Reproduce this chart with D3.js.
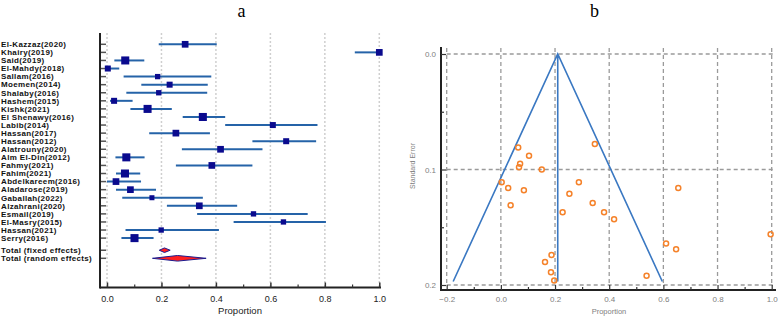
<!DOCTYPE html>
<html><head><meta charset="utf-8">
<script src="https://cdn.jsdelivr.net/npm/d3@7"></script>
<style>body{margin:0;background:#fff}svg{display:block}</style>
</head><body>
<svg id="c" width="778" height="318"></svg>
<script>
// ---------- Panel a: forest plot data ----------
const studies = ["El-Kazzaz(2020)","Khairy(2019)","Said(2019)","El-Mahdy(2018)","Sallam(2016)","Moemen(2014)","Shalaby(2016)","Hashem(2015)","Kishk(2021)","El Shenawy(2016)","Labib(2014)","Hassan(2017)","Hassan(2012)","Alatrouny(2020)","Alm El-Din(2012)","Fahmy(2021)","Fahim(2021)","Abdelkareem(2016)","Aladarose(2019)","Gaballah(2022)","Alzahrani(2020)","Esmail(2019)","El-Masry(2015)","Hassan(2021)","Serry(2016)"];
const proportion = [0.287,1.0,0.067,0.003,0.186,0.230,0.190,0.026,0.149,0.352,0.609,0.253,0.658,0.417,0.071,0.385,0.066,0.033,0.086,0.165,0.339,0.538,0.648,0.199,0.101];
const ciLow  = [0.190,0.910,0.027,0.000,0.061,0.126,0.071,0.011,0.086,0.278,0.434,0.155,0.534,0.275,0.031,0.253,0.033,0.000,0.033,0.056,0.220,0.331,0.465,0.068,0.053];
const ciHigh = [0.403,1.000,0.137,0.045,0.383,0.370,0.368,0.094,0.238,0.434,0.773,0.378,0.768,0.571,0.138,0.534,0.122,0.125,0.180,0.352,0.478,0.737,0.804,0.411,0.171];
const weights = [4.1,4.1,5.9,3.3,2.6,3.3,2.6,3.3,5.9,5.9,3.3,4.1,3.3,4.1,5.9,4.1,5.9,4.1,4.1,2.3,4.1,2.6,2.6,2.6,5.9];
const pooledLabels = ["Total (fixed effects)","Total (random effects)"];
const pooledEst  = [0.211,0.259];
const pooledLow  = [0.192,0.167];
const pooledHigh = [0.232,0.364];
const forestTicks = [0,0.2,0.4,0.6,0.8,1.0];
const forestMinor = [0.1,0.3,0.5,0.7,0.9];

// ---------- Panel b: funnel plot data ----------
const funnelProp = [0.064,0.104,0.071,0.067,0.151,0.347,0.003,0.027,0.085,0.036,0.288,0.253,0.228,0.187,0.163,0.185,0.197,0.339,0.381,0.418,0.655,0.610,0.647,0.538,0.996];
const funnelSE   = [0.081,0.088,0.095,0.098,0.100,0.078,0.111,0.116,0.118,0.131,0.111,0.121,0.137,0.174,0.180,0.189,0.196,0.129,0.137,0.143,0.116,0.164,0.169,0.192,0.156];
const funnelCenter = 0.21;
const funnelMaxSE = 0.197;
const funnelXTicks = [-0.2,0,0.2,0.4,0.6,0.8,1.0];
const funnelXMinor = [-0.1,0.1,0.3,0.5,0.7,0.9];
const funnelYTicks = [0,0.1,0.2];
const funnelYMinor = [0.05,0.15];

const svg = d3.select("#c");
const fmt = d3.format(".1f");

// panel letters
svg.append("text").attr("x",241.5).attr("y",17).attr("text-anchor","middle")
  .style("font-family","Liberation Serif, serif").style("font-size","18px").text("a");
svg.append("text").attr("x",594.5).attr("y",17).attr("text-anchor","middle")
  .style("font-family","Liberation Serif, serif").style("font-size","18px").text("b");

// ================= FOREST =================
const n = studies.length;
const fx = d3.scaleLinear().domain([0,1]).range([107,379.3]);
const fy = d3.scaleLinear().domain([0,n+1.5]).range([44.3,258.3]);
const fTop = 33, fBottom = 287.5, fLeft = 100, fRight = 381;
const ga = svg.append("g");

// grid
ga.selectAll("line.grid").data(forestTicks).join("line")
  .attr("x1",d=>fx(d)).attr("x2",d=>fx(d)).attr("y1",fTop).attr("y2",fBottom)
  .attr("stroke","#cfcfcf").attr("stroke-width",1.5).attr("stroke-dasharray","2,2");

// row ticks on left axis
const rowPos = d3.range(n).concat([n+0.5,n+1.5]);
ga.selectAll("line.rt").data(rowPos).join("line")
  .attr("x1",fLeft).attr("x2",fLeft+6).attr("y1",d=>fy(d)).attr("y2",d=>fy(d))
  .attr("stroke","#555").attr("stroke-width",1.5);

// axes lines
ga.append("line").attr("x1",fLeft).attr("x2",fLeft).attr("y1",fTop).attr("y2",fBottom+1)
  .attr("stroke","#222").attr("stroke-width",2);
ga.append("line").attr("x1",fLeft).attr("x2",fRight).attr("y1",fBottom).attr("y2",fBottom)
  .attr("stroke","#222").attr("stroke-width",2);

// bottom axis ticks/labels
const fAxis = ga.append("g").attr("transform",`translate(0,${fBottom})`)
  .call(d3.axisBottom(fx).tickValues(forestTicks).tickFormat(fmt).tickSize(-5).tickPadding(8));
fAxis.select(".domain").remove();
fAxis.selectAll("line").attr("stroke","#333").attr("stroke-width",1.5);
fAxis.selectAll("text").style("font-family","Liberation Sans, Arial, sans-serif").style("font-size","9px").attr("fill","#222");
const fMin = ga.append("g").attr("transform",`translate(0,${fBottom})`)
  .call(d3.axisBottom(fx).tickValues(forestMinor).tickFormat("").tickSize(-3));
fMin.select(".domain").remove();
fMin.selectAll("line").attr("stroke","#333").attr("stroke-width",1.2);
ga.append("text").attr("x",240).attr("y",314).attr("text-anchor","middle")
  .style("font-family","Liberation Sans, Arial, sans-serif").style("font-size","9.5px").attr("fill","#222").text("Proportion");

// labels
const labFont = "Liberation Sans, Arial, sans-serif";
ga.selectAll("text.lab").data(studies.concat(pooledLabels)).join("text")
  .attr("x",1).attr("y",(d,i)=>fy(rowPos[i])).attr("dy","0.35em")
  .style("font-family",labFont).style("font-size","8px").style("font-weight","bold")
  .style("letter-spacing","0.35px").attr("fill","#111")
  .text(d=>d);

// CI lines
ga.selectAll("line.ci").data(d3.range(n)).join("line")
  .attr("x1",i=>fx(ciLow[i])).attr("x2",i=>fx(ciHigh[i])).attr("y1",i=>fy(i)).attr("y2",i=>fy(i))
  .attr("stroke","#2563a8").attr("stroke-width",2);
// squares
const sz = d3.scaleSqrt().domain([0,6]).range([0,8.1]);
ga.selectAll("rect.sq").data(d3.range(n)).join("rect")
  .attr("x",i=>fx(proportion[i])-sz(weights[i])/2).attr("y",i=>fy(i)-sz(weights[i])/2)
  .attr("width",i=>sz(weights[i])).attr("height",i=>sz(weights[i]))
  .attr("fill","#0a0a8e");
// diamonds
const halfH = [2.3,2.8];
ga.selectAll("path.dia").data([0,1]).join("path")
  .attr("d",k=>{const y=fy(n+0.5+k);return `M${fx(pooledLow[k])},${y}L${fx(pooledEst[k])},${y-halfH[k]}L${fx(pooledHigh[k])},${y}L${fx(pooledEst[k])},${y+halfH[k]}Z`;})
  .attr("fill","#ff1f1f").attr("stroke","#1b1b8f").attr("stroke-width",1);

// ================= FUNNEL =================
const bx = d3.scaleLinear().domain([-0.2,1.0]).range([446.7,771.7]);
const by = d3.scaleLinear().domain([0,0.2]).range([54,285]);
const gb = svg.append("g");
const bLeft = 441, bBottom = 290;

gb.selectAll("line.vg").data(funnelXTicks).join("line")
  .attr("x1",d=>bx(d)).attr("x2",d=>bx(d)).attr("y1",48).attr("y2",by(0.2))
  .attr("stroke","#9a9a9a").attr("stroke-width",1.3).attr("stroke-dasharray","4,3");
gb.selectAll("line.hg").data(funnelYTicks).join("line")
  .attr("x1",bx(-0.2)).attr("x2",bx(1.0)+1).attr("y1",d=>by(d)).attr("y2",d=>by(d))
  .attr("stroke","#9a9a9a").attr("stroke-width",1.3).attr("stroke-dasharray","4,3");

// axes
gb.append("line").attr("x1",bLeft).attr("x2",bLeft).attr("y1",47).attr("y2",bBottom+1)
  .attr("stroke","#222").attr("stroke-width",2);
gb.append("line").attr("x1",bLeft).attr("x2",776).attr("y1",bBottom).attr("y2",bBottom)
  .attr("stroke","#222").attr("stroke-width",2);

const tickFont = "Liberation Sans, Arial, sans-serif";
const yA = gb.append("g").attr("transform",`translate(${bLeft},0)`)
  .call(d3.axisLeft(by).tickValues(funnelYTicks).tickFormat(fmt).tickSize(-5).tickPadding(5));
yA.select(".domain").remove();
yA.selectAll("line").attr("stroke","#333").attr("stroke-width",1.2);
yA.selectAll("text").style("font-family",tickFont).style("font-size","8px").attr("fill","#808080");
const yM = gb.append("g").attr("transform",`translate(${bLeft},0)`)
  .call(d3.axisLeft(by).tickValues(funnelYMinor).tickFormat("").tickSize(-3));
yM.select(".domain").remove();
yM.selectAll("line").attr("stroke","#333").attr("stroke-width",1.2);

const xA = gb.append("g").attr("transform",`translate(0,${bBottom})`)
  .call(d3.axisBottom(bx).tickValues(funnelXTicks).tickFormat(fmt).tickSize(-5).tickPadding(6));
xA.select(".domain").remove();
xA.selectAll("line").attr("stroke","#333").attr("stroke-width",1.2);
xA.selectAll("text").style("font-family",tickFont).style("font-size","8px").attr("fill","#808080");
const xM = gb.append("g").attr("transform",`translate(0,${bBottom})`)
  .call(d3.axisBottom(bx).tickValues(funnelXMinor).tickFormat("").tickSize(-3));
xM.select(".domain").remove();
xM.selectAll("line").attr("stroke","#333").attr("stroke-width",1.2);

gb.append("text").attr("x",609).attr("y",314).attr("text-anchor","middle")
  .style("font-family",tickFont).style("font-size","7.5px").attr("fill","#808080").text("Proportion");
gb.append("text").attr("transform","translate(415,166) rotate(-90)").attr("text-anchor","middle")
  .style("font-family",tickFont).style("font-size","7px").attr("fill","#808080").text("Standard Error");

// funnel lines
const fl = funnelCenter - 1.96*funnelMaxSE, fr = funnelCenter + 1.96*funnelMaxSE;
gb.append("path")
  .attr("d",`M${bx(fl)},${by(funnelMaxSE)}L${bx(funnelCenter)},${by(0)}L${bx(fr)},${by(funnelMaxSE)}M${bx(funnelCenter)},${by(0)}L${bx(funnelCenter)},${by(funnelMaxSE)}`)
  .attr("fill","none").attr("stroke","#3a78c2").attr("stroke-width",1.6);

// points
gb.selectAll("circle.pt").data(d3.range(funnelProp.length)).join("circle")
  .attr("cx",i=>bx(funnelProp[i])).attr("cy",i=>by(funnelSE[i])).attr("r",2.5)
  .attr("fill","none").attr("stroke","#f5822a").attr("stroke-width",1.5);
</script>
</body></html>
